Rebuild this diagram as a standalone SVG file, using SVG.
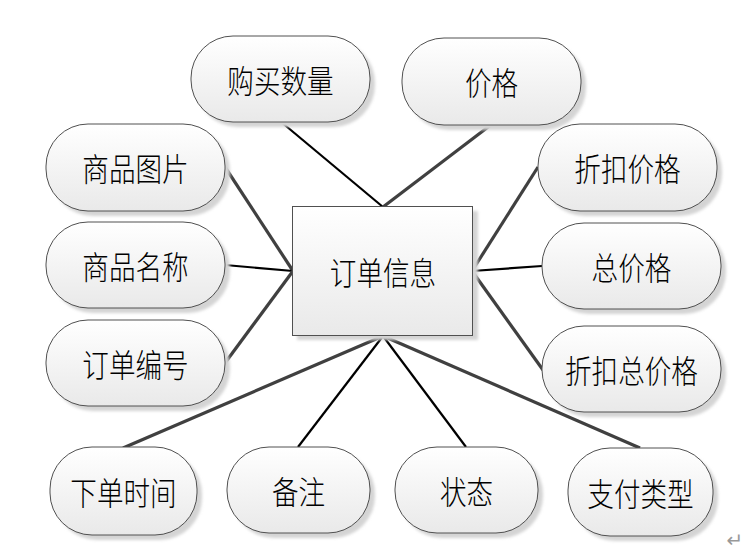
<svg xmlns="http://www.w3.org/2000/svg" width="752" height="555" viewBox="0 0 752 555">
<defs>
<linearGradient id="g" x1="0" y1="0" x2="0" y2="1">
<stop offset="0" stop-color="#ffffff"/>
<stop offset="1" stop-color="#e9e9e9"/>
</linearGradient>
<filter id="sh" x="-10%" y="-10%" width="130%" height="130%">
<feGaussianBlur stdDeviation="1.5"/>
</filter>
<style>
.sh{fill:#d4d4d4;filter:url(#sh);}
.n{fill:url(#g);stroke:#505050;stroke-width:1;}
.t{font-family:"Noto Sans CJK SC","Noto Sans CJK TC",sans-serif;font-size:28px;font-weight:300;fill:#000;text-anchor:middle;dominant-baseline:central;}
.a{stroke:#000;stroke-width:2.2;fill:none;}
.b{stroke:#404040;stroke-width:3.2;fill:none;}
</style>
</defs>
<rect width="752" height="555" fill="#fff"/>
<g id="connectors">
<line class="a" x1="280" y1="121" x2="383" y2="207"/>
<line class="b" x1="492" y1="124" x2="383" y2="207"/>
<line class="b" x1="225" y1="167" x2="293" y2="271"/>
<line class="a" x1="225" y1="265" x2="293" y2="271"/>
<line class="b" x1="225" y1="363" x2="293" y2="271"/>
<line class="b" x1="538" y1="167" x2="472" y2="271"/>
<line class="a" x1="542" y1="266" x2="472" y2="271"/>
<line class="b" x1="543" y1="370" x2="472" y2="271"/>
<line class="b" x1="383" y1="336" x2="123" y2="448"/>
<line class="a" x1="383" y1="336" x2="298" y2="447"/>
<line class="a" x1="383" y1="336" x2="466" y2="447"/>
<line class="b" x1="383" y1="336" x2="640" y2="448"/>
</g>
<g id="center">
<rect class="sh" x="297" y="211" width="181" height="129"/>
<rect class="n" x="292.5" y="206.5" width="180" height="129"/>
<text class="t" transform="translate(383,271) scale(0.95,1.15)">订单信息</text>
</g>
<g id="n1">
<rect class="sh" x="196" y="41" width="179" height="86" rx="42"/>
<rect class="n" x="191" y="36" width="179" height="86" rx="42"/>
<text class="t" transform="translate(280.5,79) scale(0.95,1.15)">购买数量</text>
</g>
<g id="n2">
<rect class="sh" x="407" y="43" width="179" height="87" rx="42"/>
<rect class="n" x="402" y="38" width="179" height="87" rx="42"/>
<text class="t" transform="translate(491.5,81.5) scale(0.95,1.15)">价格</text>
</g>
<g id="n3">
<rect class="sh" x="51" y="129" width="179" height="87" rx="42"/>
<rect class="n" x="46" y="124" width="179" height="87" rx="42"/>
<text class="t" transform="translate(135.5,167.5) scale(0.95,1.15)">商品图片</text>
</g>
<g id="n4">
<rect class="sh" x="543" y="129" width="179" height="87" rx="42"/>
<rect class="n" x="538" y="124" width="179" height="87" rx="42"/>
<text class="t" transform="translate(627.5,167.5) scale(0.95,1.15)">折扣价格</text>
</g>
<g id="n5">
<rect class="sh" x="51" y="227" width="179" height="86" rx="42"/>
<rect class="n" x="46" y="222" width="179" height="86" rx="42"/>
<text class="t" transform="translate(135.5,265) scale(0.95,1.15)">商品名称</text>
</g>
<g id="n6">
<rect class="sh" x="547" y="228" width="179" height="86" rx="42"/>
<rect class="n" x="542" y="223" width="179" height="86" rx="42"/>
<text class="t" transform="translate(631.5,266) scale(0.95,1.15)">总价格</text>
</g>
<g id="n7">
<rect class="sh" x="51" y="325" width="179" height="86" rx="42"/>
<rect class="n" x="46" y="320" width="179" height="86" rx="42"/>
<text class="t" transform="translate(135.5,363) scale(0.95,1.15)">订单编号</text>
</g>
<g id="n8">
<rect class="sh" x="547" y="331" width="179" height="86" rx="42"/>
<rect class="n" x="542" y="326" width="179" height="86" rx="42"/>
<text class="t" transform="translate(631.5,369) scale(0.95,1.15)">折扣总价格</text>
</g>
<g id="n9">
<rect class="sh" x="55" y="452" width="147" height="88" rx="42"/>
<rect class="n" x="50" y="447" width="147" height="88" rx="42"/>
<text class="t" transform="translate(123.5,491) scale(0.95,1.15)">下单时间</text>
</g>
<g id="n10">
<rect class="sh" x="232" y="452" width="143" height="86" rx="42"/>
<rect class="n" x="227" y="447" width="143" height="86" rx="42"/>
<text class="t" transform="translate(298.5,490) scale(0.95,1.15)">备注</text>
</g>
<g id="n11">
<rect class="sh" x="400" y="452" width="143" height="86" rx="42"/>
<rect class="n" x="395" y="447" width="143" height="86" rx="42"/>
<text class="t" transform="translate(466.5,490) scale(0.95,1.15)">状态</text>
</g>
<g id="n12">
<rect class="sh" x="573" y="453" width="145" height="88" rx="42"/>
<rect class="n" x="568" y="448" width="145" height="88" rx="42"/>
<text class="t" transform="translate(640.5,492) scale(0.95,1.15)">支付类型</text>
</g>
<text x="735" y="540" font-family="DejaVu Sans, sans-serif" font-size="20" fill="#999" text-anchor="middle" dominant-baseline="central">↵</text>
</svg>
